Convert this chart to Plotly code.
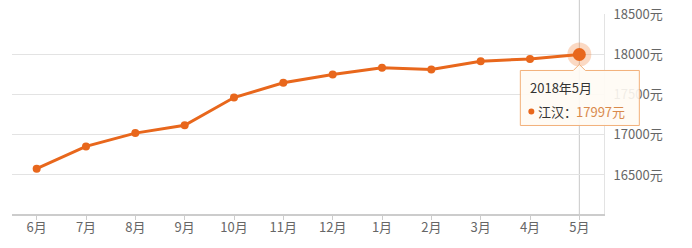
import plotly.graph_objects as go

months = ["6月", "7月", "8月", "9月", "10月", "11月", "12月", "1月", "2月", "3月", "4月", "5月"]
prices = [16578, 16855, 17020, 17118, 17462, 17645, 17748, 17831, 17810, 17913, 17942, 17997]
ytick_vals = [16500, 17000, 17500, 18000, 18500]
ytick_text = [f"{v}元" for v in ytick_vals]
series_name = "江汉"
tip_title = "2018年5月"

LINE = "#e8671c"
FONT = "Noto Sans CJK SC"
idx = len(months) - 1
YR = [16015, 18500]
XR = [-0.5, len(months) - 0.5]

# paper coordinates of the highlighted point (computed from data and axis ranges)
px = (idx - XR[0]) / (XR[1] - XR[0])
py = (prices[idx] - YR[0]) / (YR[1] - YR[0])

fig = go.Figure()
fig.add_trace(go.Scatter(
    x=list(range(len(months))), y=prices, mode="lines+markers",
    line=dict(color=LINE, width=3),
    marker=dict(size=8, color=LINE),
    hoverinfo="skip", showlegend=False, cliponaxis=False,
))
fig.add_trace(go.Scatter(
    x=[idx], y=[prices[idx]], mode="markers",
    marker=dict(size=24, color="rgba(240,120,40,0.28)"),
    hoverinfo="skip", showlegend=False, cliponaxis=False,
))
fig.add_trace(go.Scatter(
    x=[idx], y=[prices[idx]], mode="markers",
    marker=dict(size=13, color=LINE),
    hoverinfo="skip", showlegend=False, cliponaxis=False,
))

# crosshair
fig.add_shape(type="line", xref="paper", yref="paper", x0=px, x1=px, y0=0, y1=1.07,
              line=dict(color="#c8c8c8", width=1), layer="below")

BORDER = "#f2b07a"
BG = "rgba(255,251,244,0.9)"
# tooltip box
fig.add_shape(type="path", xref="paper", yref="paper", xsizemode="pixel", ysizemode="pixel",
              xanchor=px, yanchor=py,
              path="M -59,-16 L -6,-16 L 0,-10 L 6,-16 L 60,-16 L 60,-71 L -59,-71 Z",
              fillcolor=BG, line=dict(color=BORDER, width=1), layer="above")
# bullet
fig.add_shape(type="circle", xref="paper", yref="paper", xsizemode="pixel", ysizemode="pixel",
              xanchor=px, yanchor=py, x0=-51, x1=-45, y0=-60, y1=-54,
              fillcolor=LINE, line=dict(width=0), layer="above")

fig.add_annotation(xref="paper", yref="paper", x=px, y=py, xanchor="left", yanchor="middle",
                   xshift=-51, yshift=-33, showarrow=False, text=tip_title,
                   font=dict(family=FONT, size=13, color="#333"))
fig.add_annotation(xref="paper", yref="paper", x=px, y=py, xanchor="left", yanchor="middle",
                   xshift=-43, yshift=-57, showarrow=False, text=f"{series_name}：",
                   font=dict(family=FONT, size=13, color="#333"))
fig.add_annotation(xref="paper", yref="paper", x=px, y=py, xanchor="left", yanchor="middle",
                   xshift=-5, yshift=-57, showarrow=False, text=f"{prices[idx]}元",
                   font=dict(family=FONT, size=13, color="#d98a4c"))

fig.update_layout(
    width=692, height=248,
    margin=dict(l=12, r=88, t=14, b=34),
    paper_bgcolor="white", plot_bgcolor="white",
    font=dict(family=FONT, size=13, color="#666"),
    xaxis=dict(
        range=XR, automargin=False,
        tickmode="array", tickvals=list(range(len(months))), ticktext=months,
        showgrid=False, zeroline=False,
        showline=True, linecolor="#cccccc", linewidth=2,
        ticks="outside", ticklen=4, tickcolor="#cccccc",
        ticklabelstandoff=-4,
        tickfont=dict(family=FONT, size=13, color="#666"),
        fixedrange=True,
    ),
    yaxis=dict(
        range=YR, side="right", automargin=False,
        tickmode="array", tickvals=ytick_vals, ticktext=ytick_text,
        showgrid=True, gridcolor="#e3e3e3", gridwidth=1,
        zeroline=False, showline=True, linecolor="#e3e3e3", linewidth=1,
        ticks="", ticklabelstandoff=6,
        tickfont=dict(family=FONT, size=13, color="#666"),
        fixedrange=True,
    ),
)

fig.write_html("out.html")
